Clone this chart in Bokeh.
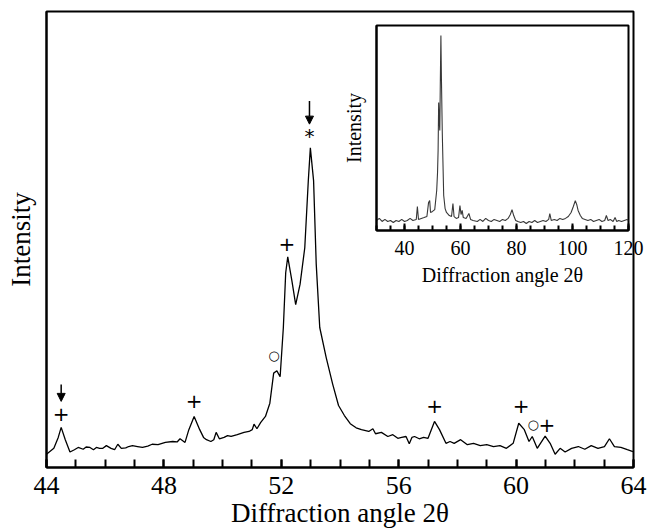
#!/usr/bin/env python3

from bokeh.core.properties import value
from bokeh.embed import file_html
from bokeh.layouts import column
from bokeh.models import Arrow, ColumnDataSource, NormalHead, Range1d, SingleIntervalTicker, FixedTicker
from bokeh.plotting import figure
from bokeh.resources import INLINE

# main pattern (2theta, intensity in arbitrary units)
angles = [44.00, 44.25, 44.40, 44.50, 44.64, 44.80, 44.95, 45.08, 45.25, 45.35, 45.48, 45.60, 45.70, 45.81,
	45.92, 46.04, 46.20, 46.32, 46.43, 46.55, 46.70, 46.80, 46.93, 47.10, 47.27, 47.45, 47.60, 47.80, 48.05,
	48.30, 48.45, 48.55, 48.72, 48.85, 49.03, 49.22, 49.35, 49.45, 49.60, 49.70, 49.78, 49.89, 50.05, 50.17,
	50.29, 50.50, 50.73, 50.90, 51.01, 51.07, 51.17, 51.30, 51.46, 51.61, 51.74, 51.85, 51.96, 52.07, 52.15,
	52.22, 52.36, 52.49, 52.64, 52.80, 52.92, 52.99, 53.10, 53.19, 53.31, 53.53, 53.75, 53.95, 54.15, 54.35,
	54.55, 54.73, 54.98, 55.12, 55.21, 55.41, 55.63, 55.80, 55.97, 56.10, 56.25, 56.36, 56.45, 56.54, 56.70,
	56.85, 57.00, 57.22, 57.39, 57.61, 57.75, 57.89, 58.11, 58.34, 58.55, 58.78, 59.00, 59.23, 59.45, 59.67,
	59.90, 60.09, 60.28, 60.44, 60.55, 60.72, 60.99, 61.16, 61.33, 61.50, 61.67, 61.89, 62.12, 62.34, 62.56,
	62.79, 63.01, 63.18, 63.35, 63.57, 63.79, 63.98]
intensity = [29, 42, 66, 88, 61, 34, 39, 44, 40, 45, 44, 39, 44, 42,
	42, 48, 42, 39, 51, 42, 43, 46, 48, 46, 44, 47, 51, 50, 55,
	57, 56, 63, 55, 83, 112, 83, 66, 61, 57, 61, 77, 63, 66, 70,
	68, 72, 77, 79, 83, 95, 85, 99, 112, 141, 207, 212, 199, 307, 427,
	462, 410, 357, 402, 482, 629, 701, 629, 446, 307, 241, 183, 136, 114, 96,
	87, 83, 79, 85, 74, 77, 68, 72, 64, 66, 68, 52, 66, 68, 63,
	66, 64, 101, 83, 53, 57, 53, 61, 50, 53, 48, 50, 46, 48, 42,
	53, 97, 83, 57, 68, 42, 69, 53, 29, 42, 34, 42, 46, 40, 48,
	42, 46, 63, 46, 44, 39, 35]

# peak markers
plusX = [44.50, 49.03, 52.19, 57.22, 60.17, 61.05]
plusY = [118, 145, 491, 134, 134, 94]
circleX = [51.75, 60.58]
circleY = [245, 94]
starX = [52.96]
starY = [727]
arrowX = [44.50, 52.96]
arrowTop = [182, 804]
arrowTip = [145, 753]

# inset: full scan
insetAngles = [30.0, 31.0, 32.0, 33.0, 34.0, 35.0, 36.0, 37.0, 38.0, 39.0, 40.0, 41.0, 42.0, 43.0, 44.2, 44.6,
	45.0, 46.0, 47.0, 48.0, 48.6, 49.0, 49.3, 50.0, 50.8, 51.5, 51.8, 52.0, 52.2, 52.4, 52.6, 52.8, 53.0,
	53.2, 53.5, 54.0, 54.5, 55.0, 56.0, 56.8, 57.3, 57.7, 58.5, 59.3, 59.8, 60.2, 60.6, 61.0, 62.0, 63.0,
	63.6, 64.5, 66.0, 67.0, 68.0, 69.0, 70.0, 71.0, 72.0, 73.0, 74.0, 75.0, 76.0, 77.0, 77.8, 78.4, 79.0,
	79.7, 80.5, 81.5, 82.5, 83.5, 84.5, 85.5, 86.5, 87.5, 88.5, 89.5, 90.5, 91.5, 91.9, 92.4, 93.5, 94.5,
	95.5, 96.5, 97.5, 98.5, 99.5, 100.3, 101.0, 101.5, 102.0, 102.8, 103.5, 104.5, 105.5, 106.5, 107.5,
	108.5, 109.5, 110.5, 111.5, 112.1, 112.7, 113.5, 114.5, 115.2, 115.8, 116.5, 117.5, 118.5, 119.5, 120.0]
insetIntensity = [49, 59, 44, 54, 44, 49, 39, 49, 44, 54, 44, 49, 59, 49, 54, 117,
	54, 59, 63, 68, 137, 146, 88, 93, 102, 195, 283, 390, 624, 537, 488, 732, 951,
	732, 473, 171, 107, 88, 73, 68, 132, 68, 59, 63, 122, 78, 98, 63, 59, 83,
	54, 49, 44, 54, 44, 59, 49, 44, 54, 49, 44, 54, 49, 59, 78, 102, 73,
	49, 44, 39, 44, 34, 44, 39, 49, 39, 44, 49, 44, 54, 83, 49, 54, 49,
	59, 54, 59, 68, 88, 117, 146, 127, 98, 73, 59, 54, 49, 54, 44,
	49, 54, 44, 49, 73, 49, 54, 44, 63, 44, 49, 44, 49, 54, 49]

serif = "Liberation Serif"
mainHeight = 531
insetTop = 15
insetHeight = 280


def styleAxes(plot, tickSize, labelSize, tickIn, minorIn, width):
	for axis in [plot.xaxis, plot.yaxis]:
		axis.axis_label_text_font = serif
		axis.axis_label_text_font_style = "normal"
		axis.axis_label_text_font_size = labelSize
		axis.axis_label_text_color = "black"
		axis.axis_line_width = width
		axis.axis_line_color = "black"
	plot.xaxis.major_label_text_font = serif
	plot.xaxis.major_label_text_font_size = tickSize
	plot.xaxis.major_label_text_color = "black"
	plot.xaxis.major_label_text_line_height = 1.0
	plot.xaxis.axis_label_text_line_height = 1.0
	plot.xaxis.major_tick_in = tickIn
	plot.xaxis.major_tick_out = 0
	plot.xaxis.minor_tick_in = minorIn
	plot.xaxis.minor_tick_out = 0
	plot.xaxis.major_tick_line_width = width
	plot.xaxis.minor_tick_line_width = width
	plot.xaxis.major_tick_line_color = "black"
	plot.xaxis.minor_tick_line_color = "black"
	plot.yaxis.ticker = FixedTicker(ticks=[])
	plot.yaxis.major_tick_in = 0
	plot.yaxis.major_tick_out = 0
	plot.yaxis.minor_tick_in = 0
	plot.yaxis.minor_tick_out = 0
	plot.yaxis.major_label_standoff = 0
	plot.outline_line_color = "black"
	plot.outline_line_width = width
	plot.outline_line_alpha = 1
	plot.xgrid.visible = False
	plot.ygrid.visible = False


plot = figure(width=658, height=mainHeight, x_range=Range1d(44, 64), y_range=Range1d(0, 1000),
	x_axis_label="Diffraction angle 2θ", y_axis_label="Intensity",
	toolbar_location=None, output_backend="svg",
	min_border_left=46, min_border_right=16, min_border_top=11, min_border_bottom=64)
styleAxes(plot, "26px", "27px", 8, 8, 2)
plot.xaxis.ticker = SingleIntervalTicker(interval=4, num_minor_ticks=4)
plot.xaxis.major_label_standoff = 9
plot.xaxis.axis_label_standoff = 1
plot.yaxis.axis_label_standoff = 11

plot.line(angles, intensity, line_color="black", line_width=1.3)

plot.text(plusX, plusY, text=["+"] * len(plusX), text_font=value("DejaVu Sans"), text_font_size="20px",
	text_align="center", text_baseline="middle", text_color="#000000")
plot.text(circleX, circleY, text=["○"] * len(circleX), text_font=value("DejaVu Sans"), text_font_size="13px",
	text_align="center", text_baseline="middle", text_color="#000000")
plot.text(starX, starY, text=["*"] * len(starX), text_font=value("DejaVu Sans"), text_font_size="20px",
	text_align="center", text_baseline="middle", text_color="#000000")

arrows = ColumnDataSource(dict(x=arrowX, y0=arrowTop, y1=arrowTip))
plot.add_layout(Arrow(source=arrows, x_start="x", y_start="y0", x_end="x", y_end="y1", line_width=1.5,
	end=NormalHead(size=8, fill_color="black", line_color="black")))

inset = figure(width=323, height=insetHeight, x_range=Range1d(30, 120), y_range=Range1d(0, 1000),
	x_axis_label="Diffraction angle 2θ", y_axis_label="Intensity",
	toolbar_location=None, output_backend="svg",
	min_border_left=43, min_border_right=25, min_border_top=10, min_border_bottom=65,
	margin=(insetTop - mainHeight, 0, mainHeight - insetTop - insetHeight, 330))
styleAxes(inset, "20px", "20px", 7, 5, 2)
inset.xaxis.ticker = SingleIntervalTicker(interval=20, num_minor_ticks=4)
inset.xaxis.major_label_standoff = 10
inset.xaxis.axis_label_standoff = 6
inset.yaxis.axis_label_standoff = 12
inset.border_fill_alpha = 0
inset.background_fill_color = "white"

inset.line(insetAngles, insetIntensity, line_color="#383838", line_width=1.1)

page = column(plot, inset, spacing=0)
open("out.html", "w").write(file_html(page, INLINE))
